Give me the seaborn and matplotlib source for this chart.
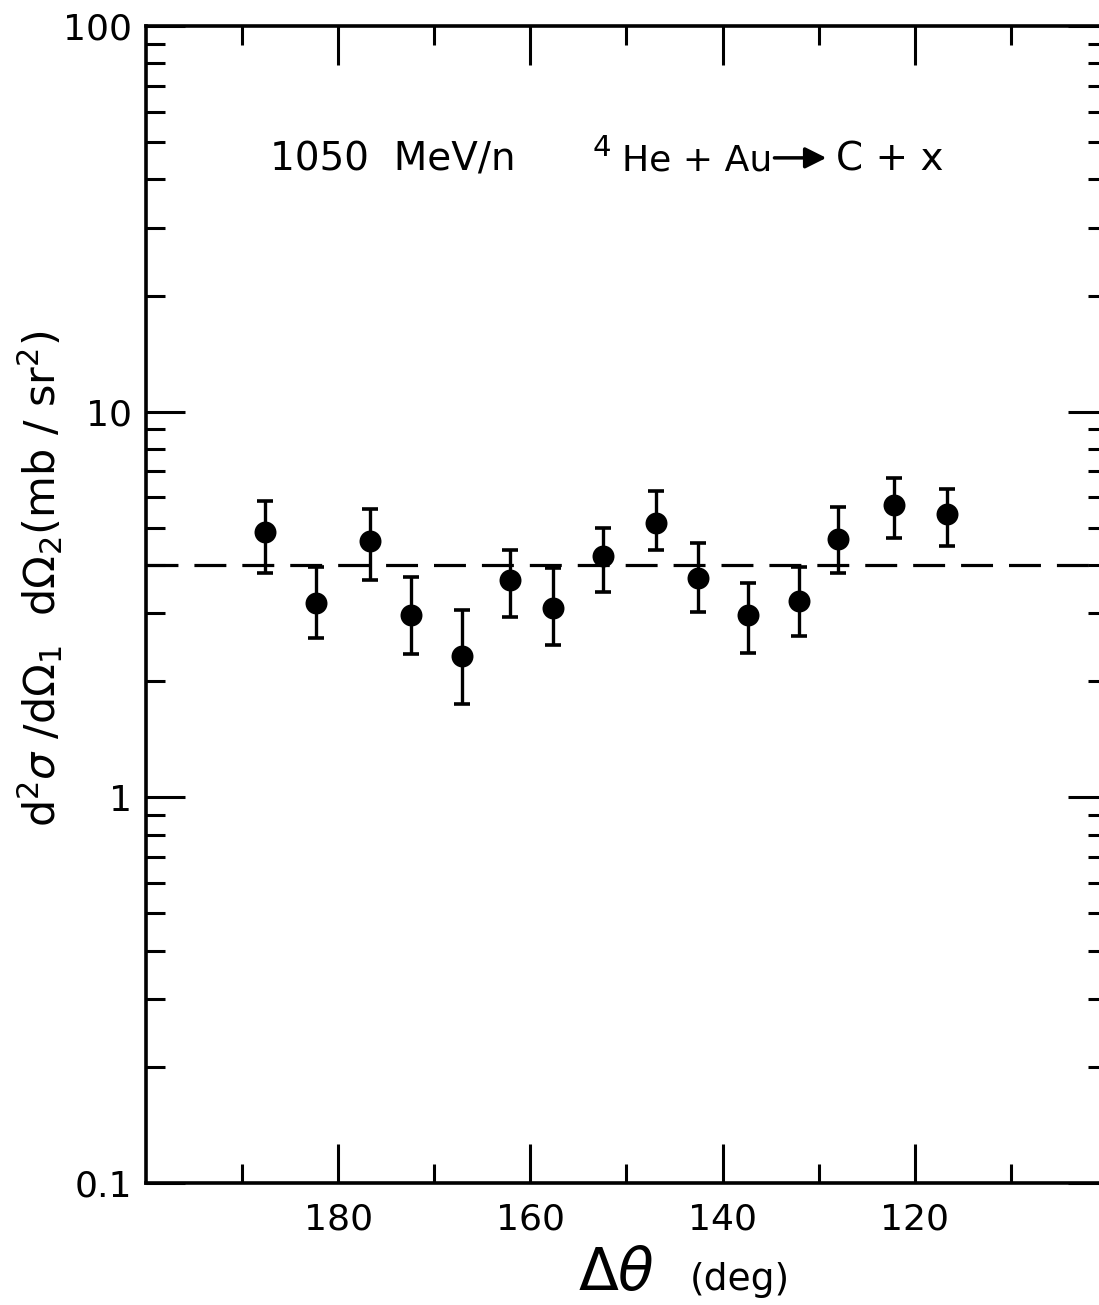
import matplotlib
matplotlib.use("Agg")
import matplotlib.pyplot as plt
import matplotlib.ticker as tkr
import seaborn as sns
import numpy as np
import pandas as pd

# values
delta_theta = [187.6, 182.3, 176.7, 172.4, 167.1, 162.1, 157.6, 152.4, 146.9, 142.6, 137.4, 132.0, 128.0, 122.2, 116.6]
cross_section = [4.88, 3.19, 4.62, 2.97, 2.32, 3.66, 3.10, 4.23, 5.15, 3.71, 2.97, 3.23, 4.67, 5.73, 5.43]
err_high = [5.87, 3.96, 5.60, 3.73, 3.06, 4.39, 3.94, 5.00, 6.24, 4.57, 3.60, 3.96, 5.66, 6.74, 6.31]
err_low = [3.82, 2.59, 3.66, 2.35, 1.75, 2.94, 2.48, 3.40, 4.39, 3.03, 2.37, 2.62, 3.82, 4.71, 4.49]
fit_level = 4.0

x_major = [180, 160, 140, 120]
x_minor = [190, 170, 150, 130, 110]
x_labels = ["180", "160", "140", "120"]
y_major = [0.1, 1, 10, 100]
y_labels = ["0.1", "1", "10", "100"]

df = pd.DataFrame({"dtheta": delta_theta, "sigma": cross_section,
                   "lo": err_low, "hi": err_high})

sns.set_theme(style="ticks")
plt.rcParams['font.family'] = ['DejaVu Sans']
plt.rcParams['mathtext.fontset'] = 'dejavusans'
plt.rcParams.update({'text.color': 'black', 'axes.labelcolor': 'black',
                     'xtick.color': 'black', 'ytick.color': 'black',
                     'axes.edgecolor': 'black'})

fig = plt.figure(figsize=(10.99, 13.05), dpi=100)
# right spine sits just past the edge of the picture, as in the scan
ax = fig.add_axes([0.1328, 0.0935, 0.8744, 0.8866])
ax.set_yscale('log')

ax.axhline(fit_level, color='black', lw=2.3, dashes=(10, 5), zorder=1)

yerr = [df["sigma"] - df["lo"], df["hi"] - df["sigma"]]
ax.errorbar(df["dtheta"], df["sigma"], yerr=yerr, fmt='none',
            ecolor='black', elinewidth=2.4, capsize=6, capthick=2.6, zorder=2)
sns.scatterplot(data=df, x="dtheta", y="sigma", color='black', s=250,
                linewidth=0, ax=ax, zorder=3, legend=False)

ax.set_xlim(200, 100)
ax.set_ylim(0.1, 100)

ax.set_xticks(x_major)
ax.set_xticks(x_minor, minor=True)
ax.set_xticklabels(x_labels)
ax.yaxis.set_major_locator(tkr.FixedLocator(y_major))
ax.yaxis.set_minor_locator(tkr.LogLocator(base=10, subs=np.arange(2, 10)))
ax.yaxis.set_minor_formatter(tkr.NullFormatter())
ax.set_yticklabels(y_labels)

ax.tick_params(axis='both', which='both', direction='in', top=True, right=True,
               bottom=True, left=True)
ax.tick_params(axis='both', which='major', length=28, width=2.2, labelsize=26)
ax.tick_params(axis='both', which='minor', length=14, width=2.2)
ax.tick_params(axis='x', which='major', pad=14)
ax.tick_params(axis='y', which='major', pad=10)

for s in ax.spines.values():
    s.set_linewidth(2.6)

ax.set_xlabel("")
ax.set_ylabel(r"d$^2\sigma$ /d$\Omega_1$  d$\Omega_2$(mb / sr$^2$)", fontsize=31)
ax.yaxis.set_label_coords(-0.084, 0.522)

ax.text(0.4495, -0.0925, r"$\Delta\theta$", transform=ax.transAxes, fontsize=42,
        ha='left', va='baseline')
ax.text(0.566, -0.0925, "(deg)", transform=ax.transAxes, fontsize=27,
        ha='left', va='baseline')

ax.text(0.129, 0.8755, "1050  MeV/n", transform=ax.transAxes, fontsize=28,
        ha='left', va='baseline')
ax.text(0.465, 0.8875, "4", transform=ax.transAxes, fontsize=21,
        ha='left', va='baseline')
ax.text(0.495, 0.8755, "He + Au", transform=ax.transAxes, fontsize=26,
        ha='left', va='baseline')
ax.annotate("", xy=(0.708, 0.886), xytext=(0.654, 0.886), xycoords='axes fraction',
            arrowprops=dict(arrowstyle='-|>', lw=2.5, color='black', mutation_scale=32,
                            shrinkA=0, shrinkB=0))
ax.text(0.718, 0.8755, "C + x", transform=ax.transAxes, fontsize=28,
        ha='left', va='baseline')

fig.savefig("out.png", dpi=100, facecolor='white')
